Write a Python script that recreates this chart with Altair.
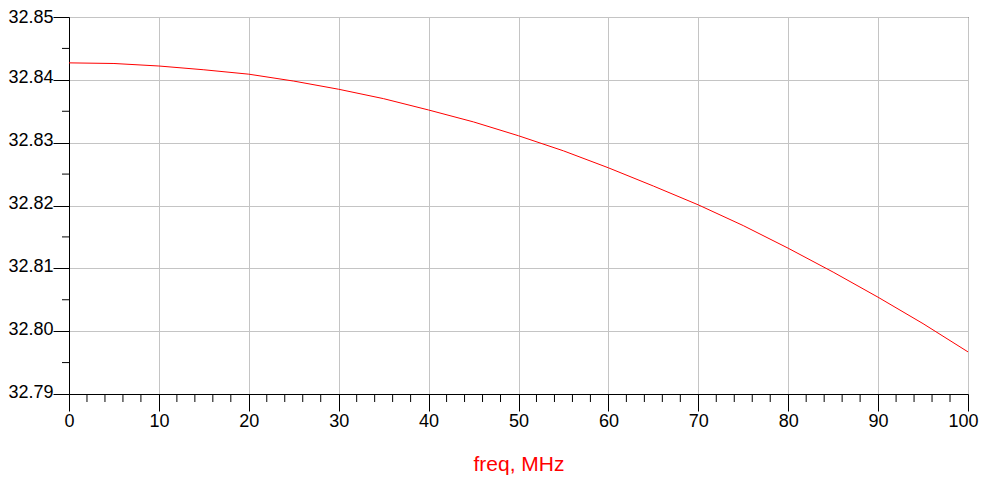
import altair as alt
import pandas as pd

freq = [0, 5, 10, 15, 20, 25, 30, 35, 40, 45, 50, 55, 60, 65, 70, 75, 80, 85, 90, 95, 100]
value = [32.8427, 32.8426, 32.8422, 32.8416, 32.8409, 32.8398, 32.8385, 32.8370, 32.8352,
         32.8333, 32.8311, 32.8287, 32.8260, 32.8231, 32.8201, 32.8168, 32.8132, 32.8094,
         32.8054, 32.8012, 32.7967]
x_major = [0, 10, 20, 30, 40, 50, 60, 70, 80, 90, 100]
x_minor = [v for v in range(0, 101, 2) if v % 10 != 0]
y_major = [32.79, 32.80, 32.81, 32.82, 32.83, 32.84, 32.85]
y_minor = [32.795, 32.805, 32.815, 32.825, 32.835, 32.845]

W, H = 899, 377
FONT = "Liberation Sans"

df = pd.DataFrame({"freq": freq, "value": value})
xs = alt.Scale(domain=[0, 100], nice=False, zero=False)
ys = alt.Scale(domain=[32.79, 32.85], nice=False, zero=False)

x_axis = alt.Axis(
    values=x_major, title="freq, MHz", titleColor="#ff0000", titleFontSize=21,
    titleFontWeight="normal", titleFont=FONT, titlePadding=23,
    labelFont=FONT, labelFontSize=18, labelColor="black", labelPadding=1,
    labelOffset={"condition": {"test": "datum.value == 100", "value": -5}, "value": 0},
    tickSize=17, tickColor="black", domainColor="black",
    grid=True, gridColor="#c4c4c4", gridWidth=1, labelFlush=False)
y_axis = alt.Axis(
    values=y_major, format=".2f", title=None,
    labelFont=FONT, labelFontSize=18, labelColor="black", labelPadding=0,
    labelOffset={"condition": {"test": "datum.value > 32.849", "value": 0}, "value": -2},
    tickSize=16, tickColor="black", domainColor="black",
    grid=True, gridColor="#c4c4c4", gridWidth=1, labelFlush=False)

line = alt.Chart(df).mark_line(color="#ff0000", strokeWidth=1).encode(
    x=alt.X("freq:Q", scale=xs, axis=x_axis),
    y=alt.Y("value:Q", scale=ys, axis=y_axis),
)

xm = alt.Chart(pd.DataFrame({"m": x_minor})).mark_rule(color="black", strokeWidth=1).encode(
    x=alt.X("m:Q", scale=xs, axis=x_axis),
    y=alt.value(H), y2=alt.value(H + 8),
)
ym = alt.Chart(pd.DataFrame({"n": y_minor})).mark_rule(color="black", strokeWidth=1).encode(
    y=alt.Y("n:Q", scale=ys, axis=y_axis),
    x=alt.value(-7), x2=alt.value(0),
)

chart = alt.layer(line, xm, ym).properties(
    width=W, height=H,
    background="white",
    autosize=alt.AutoSizeParams(type="none"),
    padding={"left": 61, "top": 9, "right": 11, "bottom": 82},
).configure_view(stroke="black", strokeWidth=1)

chart.save("out.html", embed_options={"renderer": "svg", "actions": False})
